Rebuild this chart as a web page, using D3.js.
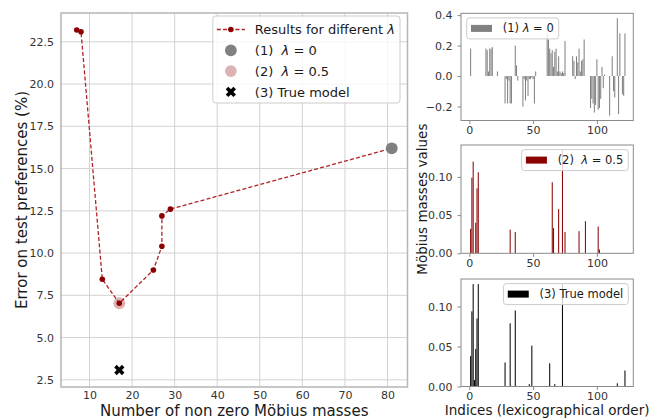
<!DOCTYPE html>
<html lang="en">
<head>
<meta charset="UTF-8">
<title>Möbius masses</title>
<script src="https://d3js.org/d3.v7.min.js"></script>
<style>
  body { margin: 0; background: #fff; }
  svg { display: block; font-family: "DejaVu Sans", sans-serif; }
  .tick text { fill: #333; }
  .legend text { fill: #1a1a1a; white-space: pre; }
</style>
</head>
<body>
<div class="viz"></div>
<script>
// ---- main panel: error vs number of non zero masses ----
const nonZeroCounts = [7, 8, 13, 17, 25, 27, 27, 29, 81];
const testErrors = [23.2, 23.1, 8.45, 7.03, 9.0, 10.4, 12.2, 12.6, 16.2];
const lam0Point = [81, 16.2];
const lam05Point = [17, 7.03];
const truePoint = [17, 3.08];

// ---- bar panels: Möbius masses per index (only non zero ones listed) ----
const nIndices = 123;
const lam0Idx = [1, 13, 14, 15, 16, 17, 18, 22, 28, 29, 30, 31, 32, 33, 36, 37, 38,
  42, 43, 44, 45, 46, 47, 48, 49, 50, 51, 52,
  61, 62, 63, 64, 65, 66, 67, 68, 69, 70, 71, 72, 73, 74, 75,
  81, 82, 83, 84, 85, 86, 87, 88, 89, 90,
  95, 96, 97, 98, 99, 100, 101, 102, 103, 104, 105, 106,
  110, 112, 113, 114, 116, 117, 118, 120, 121, 122];
const lam0Val = [0.18, 0.18, 0.17, 0.03, 0.18, 0.18, 0.19, 0.03, -0.18, -0.02, -0.18, -0.03, -0.18, -0.18, 0.20, 0.07, -0.03,
  -0.20, -0.02, -0.16, -0.03, -0.13, -0.02, -0.02, -0.01, -0.02, -0.18, 0.03,
  0.28, 0.24, 0.18, 0.15, 0.17, 0.06, 0.16, 0.18, 0.03, 0.13, 0.03, 0.02, 0.03, 0.02, 0.23,
  0.13, 0.10, -0.02, 0.13, 0.09, 0.18, 0.03, 0.10, 0.11, 0.24,
  -0.21, -0.15, -0.18, -0.24, -0.19, 0.11, -0.22, -0.21, -0.15, 0.06, -0.08, 0.01,
  -0.26, 0.13, -0.10, -0.14, 0.38, -0.25, 0.28, -0.12, -0.13, 0.28];

const lam05Idx = [1, 2, 3, 5, 6, 7, 32, 36, 65, 66, 70, 73, 75, 86, 91, 101, 102];
const lam05Val = [0.032, 0.099, 0.12, 0.04, 0.085, 0.106, 0.031, 0.028, 0.093, 0.033, 0.058, 0.135, 0.028, 0.029, 0.042, 0.035, 0.005];

const trueIdx = [1, 2, 3, 4, 5, 6, 7, 28, 32, 36, 47, 49, 63, 67, 73, 116, 122];
const trueVal = [0.038, 0.094, 0.128, 0.008, 0.047, 0.085, 0.128, 0.03, 0.079, 0.095, 0.003, 0.051, 0.029, 0.003, 0.128, 0.004, 0.02];

const width = 651, height = 419;
const darkred = '#8b0000';

const svg = d3.select('.viz').append('svg')
    .attr('width', width)
    .attr('height', height);

// matplotlib style 5% margins
function padded(ext, f = 0.05) {
    const r = ext[1] - ext[0];
    return [ext[0] - r * f, ext[1] + r * f];
}

function addText(sel, parts) {
    parts.forEach(p => {
        sel.append('tspan')
            .attr('font-style', p[1] ? 'italic' : null)
            .text(p[0]);
    });
    return sel;
}

// ================= main panel =================
const M = {left: 61, right: 407.5, top: 13, bottom: 387};

const allX = nonZeroCounts.concat([lam0Point[0], lam05Point[0], truePoint[0]]);
const allY = testErrors.concat([lam0Point[1], lam05Point[1], truePoint[1]]);

const x = d3.scaleLinear().domain(padded(d3.extent(allX))).range([M.left, M.right]);
const y = d3.scaleLinear().domain(padded(d3.extent(allY))).range([M.bottom, M.top]);

const xTicks = d3.range(10, 81, 10);
const yTicks = d3.range(2.5, 22.6, 2.5);

const grid = svg.append('g').attr('stroke', '#d3d3d3').attr('stroke-width', 1);
grid.selectAll('.gx').data(xTicks).enter().append('line')
    .attr('x1', d => x(d)).attr('x2', d => x(d))
    .attr('y1', M.top).attr('y2', M.bottom);
grid.selectAll('.gy').data(yTicks).enter().append('line')
    .attr('x1', M.left).attr('x2', M.right)
    .attr('y1', d => y(d)).attr('y2', d => y(d));

svg.append('rect')
    .attr('x', M.left).attr('y', M.top)
    .attr('width', M.right - M.left).attr('height', M.bottom - M.top)
    .attr('fill', 'none').attr('stroke', '#b5b5b5').attr('stroke-width', 1.5);

const gx = svg.append('g')
    .attr('transform', `translate(0,${M.bottom})`)
    .call(d3.axisBottom(x).tickValues(xTicks).tickSize(0).tickPadding(4).tickFormat(d3.format('d')));
const gy = svg.append('g')
    .attr('transform', `translate(${M.left},0)`)
    .call(d3.axisLeft(y).tickValues(yTicks).tickSize(0).tickPadding(7).tickFormat(d3.format('.1f')));
[gx, gy].forEach(g => {
    g.select('.domain').remove();
    g.selectAll('text').attr('font-size', 11).attr('font-family', 'DejaVu Sans');
});

// dashed line with markers
const line = d3.line().x((d, i) => x(nonZeroCounts[i])).y(d => y(d));
svg.append('path')
    .datum(testErrors)
    .attr('d', line)
    .attr('fill', 'none')
    .attr('stroke', '#b22222')
    .attr('stroke-width', 1.3)
    .attr('stroke-dasharray', '4,2.2');
svg.selectAll('.pt').data(testErrors).enter().append('circle')
    .attr('cx', (d, i) => x(nonZeroCounts[i]))
    .attr('cy', d => y(d))
    .attr('r', 2.8)
    .attr('fill', darkred);

svg.append('circle')
    .attr('cx', x(lam0Point[0])).attr('cy', y(lam0Point[1]))
    .attr('r', 5.9).attr('fill', 'gray');
svg.append('circle')
    .attr('cx', x(lam05Point[0])).attr('cy', y(lam05Point[1]))
    .attr('r', 5.9).attr('fill', darkred).attr('fill-opacity', 0.3);

const xMarker = d3.symbol().type(d3.symbolCross).size(66);
svg.append('path')
    .attr('d', xMarker())
    .attr('transform', `translate(${x(truePoint[0])},${y(truePoint[1])}) rotate(45)`)
    .attr('fill', 'black');

// axis labels
svg.append('text')
    .attr('x', (M.left + M.right) / 2).attr('y', 415.5)
    .attr('text-anchor', 'middle').attr('font-size', 15).attr('fill', '#1a1a1a')
    .text('Number of non zero Möbius masses');
svg.append('text')
    .attr('transform', `translate(26.5,${(M.top + M.bottom) / 2}) rotate(-90)`)
    .attr('text-anchor', 'middle').attr('font-size', 15).attr('fill', '#1a1a1a')
    .text('Error on test preferences (%)');

// main legend
const mainLegend = [
    {kind: 'line', parts: [['Results for different ', false], ['λ', true]]},
    {kind: 'gray', parts: [['(1)  ', false], ['λ', true], [' = 0', false]]},
    {kind: 'pink', parts: [['(2)  ', false], ['λ', true], [' = 0.5', false]]},
    {kind: 'cross', parts: [['(3) True model', false]]}
];
const lg = svg.append('g').attr('class', 'legend');
const lgRect = lg.append('rect')
    .attr('rx', 3).attr('fill', 'white').attr('fill-opacity', 0.8)
    .attr('stroke', '#cccccc').attr('stroke-width', 1);
let maxLen = 0;
mainLegend.forEach((e, i) => {
    const cy = 13.5 + i * 20.8;
    if (e.kind === 'line') {
        lg.append('line').attr('x1', 4).attr('x2', 32).attr('y1', cy).attr('y2', cy)
            .attr('stroke', '#b22222').attr('stroke-width', 1.3).attr('stroke-dasharray', '4,2.2');
        lg.append('circle').attr('cx', 18).attr('cy', cy).attr('r', 2.8).attr('fill', darkred);
    } else if (e.kind === 'gray') {
        lg.append('circle').attr('cx', 18).attr('cy', cy).attr('r', 5.9).attr('fill', 'gray');
    } else if (e.kind === 'pink') {
        lg.append('circle').attr('cx', 18).attr('cy', cy).attr('r', 5.9)
            .attr('fill', darkred).attr('fill-opacity', 0.3);
    } else {
        lg.append('path').attr('d', xMarker())
            .attr('transform', `translate(18,${cy}) rotate(45)`).attr('fill', 'black');
    }
    const t = addText(lg.append('text').attr('x', 42).attr('y', cy + 4.7).attr('font-size', 13), e.parts);
    maxLen = Math.max(maxLen, t.node().getComputedTextLength());
});
const lgW = 42 + maxLen + 5, lgH = 87;
lgRect.attr('width', lgW).attr('height', lgH);
lg.attr('transform', `translate(${400 - lgW},16)`);

// ================= bar panels =================
const S = {left: 461, right: 633.3};
const panels = [
    {top: 13.3, bottom: 120.5, idx: lam0Idx, val: lam0Val, color: 'gray',
     ticks: [-0.2, 0, 0.2, 0.4], fmt: '.1f', legend: [['(1) ', false], ['λ', true], [' = 0', false]], corner: 'left'},
    {top: 145, bottom: 253.3, idx: lam05Idx, val: lam05Val, color: darkred,
     ticks: [0, 0.05, 0.1], fmt: '.2f', legend: [['(2)  ', false], ['λ', true], [' = 0.5', false]], corner: 'right'},
    {top: 279, bottom: 386.5, idx: trueIdx, val: trueVal, color: 'black',
     ticks: [0, 0.05, 0.1], fmt: '.2f', legend: [['(3) True model', false]], corner: 'right'}
];

const xb = d3.scaleLinear()
    .domain(padded([-0.4, nIndices - 1 + 0.4]))
    .range([S.left, S.right]);
const barW = xb(0.8) - xb(0);

panels.forEach((p, k) => {
    const ext = d3.extent(p.val);
    const dom = ext[0] < 0 ? padded(ext) : [0, ext[1] * 1.05];
    const yb = d3.scaleLinear().domain(dom).range([p.bottom, p.top]);

    const bars = p.idx.map((d, i) => ({i: d, v: p.val[i]}));
    svg.append('g').selectAll('rect').data(bars).enter().append('rect')
        .attr('x', d => xb(d.i) - barW / 2)
        .attr('width', barW)
        .attr('y', d => yb(Math.max(0, d.v)))
        .attr('height', d => Math.abs(yb(d.v) - yb(0)))
        .attr('fill', p.color);

    svg.append('rect')
        .attr('x', S.left).attr('y', p.top)
        .attr('width', S.right - S.left).attr('height', p.bottom - p.top)
        .attr('fill', 'none').attr('stroke', '#8a8a8a').attr('stroke-width', 1);

    const ax = svg.append('g').attr('transform', `translate(0,${p.bottom})`)
        .call(d3.axisBottom(xb).tickValues([0, 50, 100]).tickSize(3.5).tickPadding(2));
    const ay = svg.append('g').attr('transform', `translate(${S.left},0)`)
        .call(d3.axisLeft(yb).tickValues(p.ticks).tickSize(3.5).tickPadding(5)
            .tickFormat(d => d3.format(p.fmt)(d).replace('-', '\u2212')));
    [ax, ay].forEach(g => {
        g.select('.domain').remove();
        g.selectAll('line').attr('stroke', '#8a8a8a');
        g.selectAll('text').attr('font-size', 11).attr('font-family', 'DejaVu Sans');
    });

    // legend
    const g = svg.append('g').attr('class', 'legend');
    const box = g.append('rect').attr('rx', 3).attr('fill', 'white').attr('fill-opacity', 0.8)
        .attr('stroke', '#cccccc').attr('stroke-width', 1);
    g.append('rect').attr('x', 4.3).attr('y', 7).attr('width', 21).attr('height', 7).attr('fill', p.color);
    const t = addText(g.append('text').attr('x', 36).attr('y', 14.5).attr('font-size', 11.5), p.legend);
    const w = 36 + t.node().getComputedTextLength() + 5;
    box.attr('width', w).attr('height', 21);
    const lx = p.corner === 'left' ? S.left + 5.7 : S.right - 5 - w;
    g.attr('transform', `translate(${lx},${p.top + 4.6})`);
});

svg.append('text')
    .attr('x', (S.left + S.right) / 2).attr('y', 414.5)
    .attr('text-anchor', 'middle').attr('font-size', 13.5).attr('fill', '#1a1a1a')
    .text('Indices (lexicographical order)');
svg.append('text')
    .attr('transform', `translate(426.5,${(145 + 253.3) / 2}) rotate(-90)`)
    .attr('text-anchor', 'middle').attr('font-size', 13.5).attr('fill', '#1a1a1a')
    .text('Möbius masses values');
</script>
</body>
</html>
